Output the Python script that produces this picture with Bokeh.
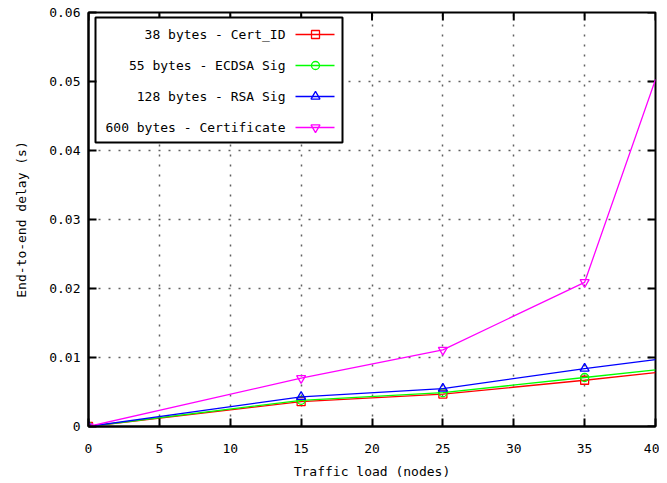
from bokeh.plotting import figure
from bokeh.models import FixedTicker, Range1d
from bokeh.embed import file_html
from bokeh.resources import INLINE
from bokeh.core.properties import value

# ---- data ----
x_nodes = [0, 15, 25, 35, 40]
cert_id = [0.0, 0.0036, 0.0047, 0.0067, 0.0078]
ecdsa_sig = [0.0, 0.0038, 0.0049, 0.0071, 0.0082]
rsa_sig = [0.0, 0.0043, 0.0055, 0.0084, 0.0097]
certificate = [0.0, 0.0070, 0.0111, 0.0209, 0.0503]
series_names = ["38 bytes - Cert_ID", "55 bytes - ECDSA Sig",
                "128 bytes - RSA Sig", "600 bytes - Certificate"]
x_ticks = [0, 5, 10, 15, 20, 25, 30, 35, 40]
y_ticks = [0, 0.01, 0.02, 0.03, 0.04, 0.05, 0.06]
y_tick_labels = ["0", "0.01", "0.02", "0.03", "0.04", "0.05", "0.06"]
x_title = "Traffic load (nodes)"
y_title = "End-to-end delay (s)"

FONT = "DejaVu Sans Mono"
FS = "13px"
W, H = 659, 483
ML, MR, MT, MB = 88, 4, 12, 57
FW, FH = W - ML - MR, H - MT - MB
TICK = 8

p = figure(width=W, height=H, output_backend="svg", toolbar_location=None,
           x_range=Range1d(0, 40), y_range=Range1d(0, 0.06),
           min_border_left=ML, min_border_right=MR, min_border_top=MT,
           min_border_bottom=MB, background_fill_color="white",
           border_fill_color="white")
p.outline_line_color = "black"
p.outline_line_width = 2

p.xaxis.ticker = FixedTicker(ticks=x_ticks)
p.yaxis.ticker = FixedTicker(ticks=y_ticks)
p.yaxis.major_label_overrides = {t: l for t, l in zip(y_ticks, y_tick_labels)}
p.xaxis.axis_label = x_title
p.yaxis.axis_label = y_title

for ax in [p.xaxis[0], p.yaxis[0]]:
    ax.axis_line_width = 2
    ax.axis_line_color = "black"
    ax.major_tick_in = TICK
    ax.major_tick_out = 0
    ax.major_tick_line_width = 2
    ax.minor_tick_line_color = None
    ax.major_label_text_font = FONT
    ax.major_label_text_font_size = FS
    ax.major_label_text_color = "black"
    ax.axis_label_text_font = FONT
    ax.axis_label_text_font_size = FS
    ax.axis_label_text_font_style = "normal"
    ax.axis_label_text_color = "black"
p.xaxis.major_label_standoff = 17
p.xaxis.axis_label_standoff = 8
p.yaxis.major_label_standoff = 8
p.yaxis.axis_label_standoff = 17

for g in [p.xgrid[0], p.ygrid[0]]:
    g.grid_line_color = "#606060"
    g.grid_line_dash = "2 8"
    g.grid_line_width = 1.5
p.xgrid.ticker = FixedTicker(ticks=x_ticks[1:-1])
p.ygrid.ticker = FixedTicker(ticks=y_ticks[1:-1])

# pixel-based helper ranges over the plot frame (for mirrored ticks and legend)
p.extra_x_ranges = {"lx": Range1d(0, FW)}
p.extra_y_ranges = {"ly": Range1d(0, FH)}

# mirrored ticks on the top and right borders
p.segment(x0=x_ticks, x1=x_ticks, y0=[FH] * len(x_ticks),
          y1=[FH - TICK] * len(x_ticks), line_color="black", line_width=2,
          y_range_name="ly")
p.segment(x0=[FW] * len(y_ticks), x1=[FW - TICK] * len(y_ticks),
          y0=y_ticks, y1=y_ticks, line_color="black", line_width=2,
          x_range_name="lx")

colors = ["#ff0000", "#00ff00", "#0000ff", "#ff00ff"]
markers = ["square", "circle", "triangle", "inverted_triangle"]
sizes = [8, 8, 9, 9]
series = [cert_id, ecdsa_sig, rsa_sig, certificate]

for ys, c, m, s in zip(series, colors, markers, sizes):
    p.line(x_nodes, ys, line_color=c, line_width=1.3)
    p.scatter(x_nodes[:-1], ys[:-1], marker=m, size=s, line_color=c,
              fill_color=None, line_width=1.3)

# ---- legend (gnuplot style: text right-aligned, sample on the right) ----
p.quad(left=[7], right=[254], top=[FH - 5], bottom=[FH - 130],
       fill_color="white", line_color="black", line_width=2,
       x_range_name="lx", y_range_name="ly")
row_y = [FH - 22 - 31 * i for i in range(len(series_names))]
p.text(x=[197] * len(series_names), y=row_y, text=series_names,
       text_align="right", text_baseline="middle",
       text_font=value(FONT), text_font_size=value(FS), text_color="black",
       x_range_name="lx", y_range_name="ly")
for yy, c, m, s in zip(row_y, colors, markers, sizes):
    p.segment(x0=[207], y0=[yy], x1=[246], y1=[yy], line_color=c,
              line_width=1.3, x_range_name="lx", y_range_name="ly")
    p.scatter(x=[227], y=[yy], marker=m, size=s, line_color=c,
              fill_color=None, line_width=1.3,
              x_range_name="lx", y_range_name="ly")

open("out.html", "w").write(file_html(p, INLINE))
